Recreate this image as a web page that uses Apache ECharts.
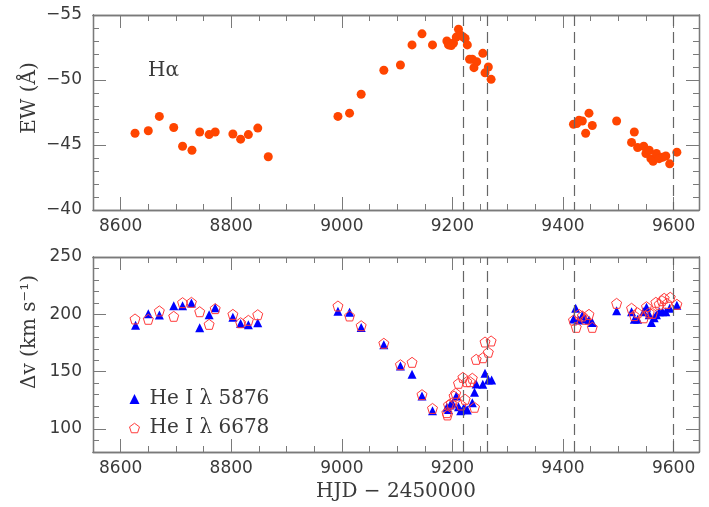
<!DOCTYPE html>
<html><head><meta charset="utf-8">
<script src="https://cdn.jsdelivr.net/npm/echarts@6/dist/echarts.min.js"></script>
<style>html,body{margin:0;padding:0;background:#fff}#c{width:709px;height:507px}</style>
</head><body><div id="c"></div>
<script>
// ---- data ----
const ewDays = [8626,8650,8670,8696,8712,8729,8743,8760,8771,8803,8817,8831,8848,8867,
  8993,9014,9035,9076,9106,9127,9145,9164,9190,9193,9198,9202,9207,9211,9215,9220,9223,9227,
  9231,9236,9239,9244,9255,9259,9265,9270,
  9419,9425,9429,9435,9441,9447,9453,9497,9524,9529,9535,9546,9550,9556,9559,9563,9569,9574,9580,9586,9593,9606];
const ewValues = [-45.9,-46.1,-47.2,-46.35,-44.9,-44.6,-46.0,-45.8,-46.0,-45.85,-45.45,-45.8,-46.3,-44.1,
  -47.2,-47.45,-48.9,-50.75,-51.15,-52.7,-53.55,-52.7,-53.0,-52.7,-52.65,-52.85,-53.3,-53.9,-53.45,-53.3,-53.2,-52.7,
  -51.6,-51.6,-50.95,-51.4,-52.05,-50.55,-51.0,-50.05,
  -46.6,-46.65,-46.9,-46.85,-45.9,-47.45,-46.5,-46.85,-45.2,-46.0,-44.8,-44.9,-44.35,-44.6,-43.95,-43.75,-44.35,-43.95,-44.05,-44.15,-43.55,-44.45];

const he5876Days = [8627,8650,8670,8696,8712,8728,8743,8760,8771,8803,8817,8831,8848,
  8993,9014,9035,9076,9106,9127,9145,9164,9190,9193,9196,9200,9207,9211,9215,9220,9223,9227,9236,9240,9243,9255,9259,9265,9271,
  9419,9423,9428,9435,9441,9447,9453,9497,9524,9529,9535,9546,9551,9556,9560,9565,9569,9574,9580,9586,9593,9606];
const he5876Values = [190.5,200.6,199.4,207.6,207.6,210,188.4,199.7,205.8,197.4,192,191,192.7,
  202.7,201.8,188.5,173.4,155,147.7,128.9,116,119,117,121,122.5,128.8,119.5,116,118,118,116.6,123,132,139.3,139,148.6,142.8,142.8,
  196,205.3,195,199,196,195,193,203.2,202.3,195.7,195.7,202.3,206.2,199.6,193,197,199.6,202.3,202.3,202.3,205.3,207.9];

const he6678Days = [8626,8650,8670,8696,8712,8728,8743,8760,8771,8803,8817,8831,8848,
  8993,9014,9035,9076,9106,9127,9145,9164,9190,9191,9193,9198,9203,9206,9211,9216,9219,9223,9226,9232,9236,9240,9243,9255,9259,9265,9270,
  9419,9424,9429,9435,9441,9447,9453,9497,9524,9529,9535,9546,9551,9556,9562,9568,9574,9579,9583,9588,9594,9606];
const he6678Values = [196,195.7,203,198.3,210.2,210.5,202.3,191.3,205,200,192.7,194.8,199.7,
  207.3,198.6,190.1,174.8,156.1,158.2,130,118,114.3,112.3,121,122.5,128.8,131.2,139.9,121,145.1,126,141.3,141.3,144.3,119,160.8,162.2,175.9,167,176.8,
  195,188.7,200,198.6,195.7,200,188.7,209.6,205.3,198.9,201.4,197,206.7,201.4,200.9,210.5,208.8,211.9,214,209.6,214.9,208.8];

const markerDays = [9219, 9263, 9420, 9600];
const xTickLabels = [8600, 8800, 9000, 9200, 9400, 9600];
const ewTickLabels = [-55, -50, -45, -40];
const dvTickLabels = [100, 150, 200, 250];

// ---- layout / style ----
const X_MIN = 8550, X_MAX = 9646;
const AX = '#7a7a7a', TXT = '#3a3a3a';
const NUM_FONT = 'DejaVu Sans', TXT_FONT = 'DejaVu Serif';
const grids = [
  {left: 93, top: 15, width: 606, height: 195},
  {left: 93, top: 257, width: 606, height: 195}
];
function steps(a, b, s, skip) { const r = []; for (let v = a; v <= b + 1e-9; v += s) { const vv = Math.round(v * 100) / 100; if (!skip.includes(vv)) r.push(vv); } return r; }
const xMinor = steps(8600, 9600, 50, xTickLabels);
const ewMinor = steps(-54, -41, 1, ewTickLabels);
const dvMinor = steps(90, 240, 10, dvTickLabels);

function axis(kind, grid, pos, min, max, vals, len, labels, extra) {
  const o = {
    type: 'value', gridIndex: grid, position: pos, min: min, max: max,
    axisLine: {show: true, onZero: false, lineStyle: {color: AX, width: 1.3}},
    axisTick: {show: true, inside: true, length: len, customValues: vals, lineStyle: {color: AX, width: 1}},
    axisLabel: {show: labels, customValues: vals, margin: kind === 'x' ? 8 : 11, color: TXT,
      fontFamily: NUM_FONT, fontSize: 17,
      formatter: v => String(v).replace('-', '\u2212')},
    splitLine: {show: false}, minorTick: {show: false}, minorSplitLine: {show: false}
  };
  return Object.assign(o, extra || {});
}
const xAxes = [], yAxes = [];
[0, 1].forEach(g => {
  xAxes.push(axis('x', g, 'bottom', X_MIN, X_MAX, xTickLabels, 13, true));
  xAxes.push(axis('x', g, 'bottom', X_MIN, X_MAX, xMinor, 6, false));
  xAxes.push(axis('x', g, 'top', X_MIN, X_MAX, xTickLabels, 13, false));
  xAxes.push(axis('x', g, 'top', X_MIN, X_MAX, xMinor, 6, false));
  const ymin = g === 0 ? -55 : 80, ymax = g === 0 ? -40 : 250;
  const maj = g === 0 ? ewTickLabels : dvTickLabels, mn = g === 0 ? ewMinor : dvMinor;
  const ex = g === 0 ? {inverse: true} : {};
  yAxes.push(axis('y', g, 'left', ymin, ymax, maj, 13, true, ex));
  yAxes.push(axis('y', g, 'left', ymin, ymax, mn, 6, false, ex));
  yAxes.push(axis('y', g, 'right', ymin, ymax, maj, 13, false, ex));
  yAxes.push(axis('y', g, 'right', ymin, ymax, mn, 6, false, ex));
});

const pent = 'path://M0,-1 L0.951,-0.309 L0.588,0.809 L-0.588,0.809 L-0.951,-0.309 Z';
const zip = (a, b) => a.map((d, i) => [d, b[i]]);
function marks(xi, yi) {
  return {type: 'scatter', xAxisIndex: xi, yAxisIndex: yi, data: [], z: 1, silent: true,
    markLine: {silent: true, symbol: 'none', label: {show: false},
      lineStyle: {color: '#666', type: [11, 6], width: 1.2},
      data: markerDays.map(d => ({xAxis: d}))}};
}
const N5876 = 'He I \u03bb 5876', N6678 = 'He I \u03bb 6678';

const option = {
  backgroundColor: '#fff',
  animation: false,
  grid: grids,
  xAxis: xAxes,
  yAxis: yAxes,
  legend: {
    left: 124, top: 384, orient: 'vertical', itemGap: 9, itemWidth: 10, itemHeight: 10,
    textStyle: {fontFamily: TXT_FONT, fontSize: 20, color: TXT, padding: [0, 0, 0, 5]},
    data: [
      {name: N5876, icon: 'triangle', itemStyle: {color: '#0000ff', opacity: 1}},
      {name: N6678, icon: pent, itemStyle: {color: 'rgba(0,0,0,0)', borderColor: '#ff3b3b', borderWidth: 1, opacity: 1}}
    ]
  },
  graphic: [
    {type: 'text', left: 148, top: 61, style: {text: 'H\u03b1', fontFamily: TXT_FONT, fontSize: 20, fill: TXT}},
    {type: 'text', x: 30, y: 98, rotation: Math.PI / 2,
      style: {text: 'EW (\u00c5)', fontFamily: TXT_FONT, fontSize: 20, fill: TXT, align: 'center', verticalAlign: 'middle'}},
    {type: 'text', x: 30, y: 332, rotation: Math.PI / 2,
      style: {text: '\u0394v (km s\u207b\u00b9)', fontFamily: TXT_FONT, fontSize: 20, fill: TXT, align: 'center', verticalAlign: 'middle'}},
    {type: 'text', x: 396, y: 492,
      style: {text: 'HJD \u2212 2450000', fontFamily: TXT_FONT, fontSize: 20, fill: TXT, align: 'center', verticalAlign: 'middle'}}
  ],
  series: [
    marks(0, 0),
    marks(4, 4),
    {name: 'EW', type: 'scatter', xAxisIndex: 0, yAxisIndex: 0, z: 3, symbol: 'circle', symbolSize: 9,
      itemStyle: {color: '#ff4500', opacity: 1}, data: zip(ewDays, ewValues)},
    {name: N5876, type: 'scatter', xAxisIndex: 4, yAxisIndex: 4, z: 3, symbol: 'triangle', symbolSize: 9,
      itemStyle: {color: '#0000ff', opacity: 1}, data: zip(he5876Days, he5876Values)},
    {name: N6678, type: 'scatter', xAxisIndex: 4, yAxisIndex: 4, z: 4, symbol: pent, symbolSize: 10,
      itemStyle: {color: 'rgba(0,0,0,0)', borderColor: '#ff3b3b', borderWidth: 1, opacity: 1}, data: zip(he6678Days, he6678Values)}
  ]
};
const chart = echarts.init(document.getElementById('c'), null, {renderer: 'canvas'});
chart.setOption(option);
</script>
</body></html>
